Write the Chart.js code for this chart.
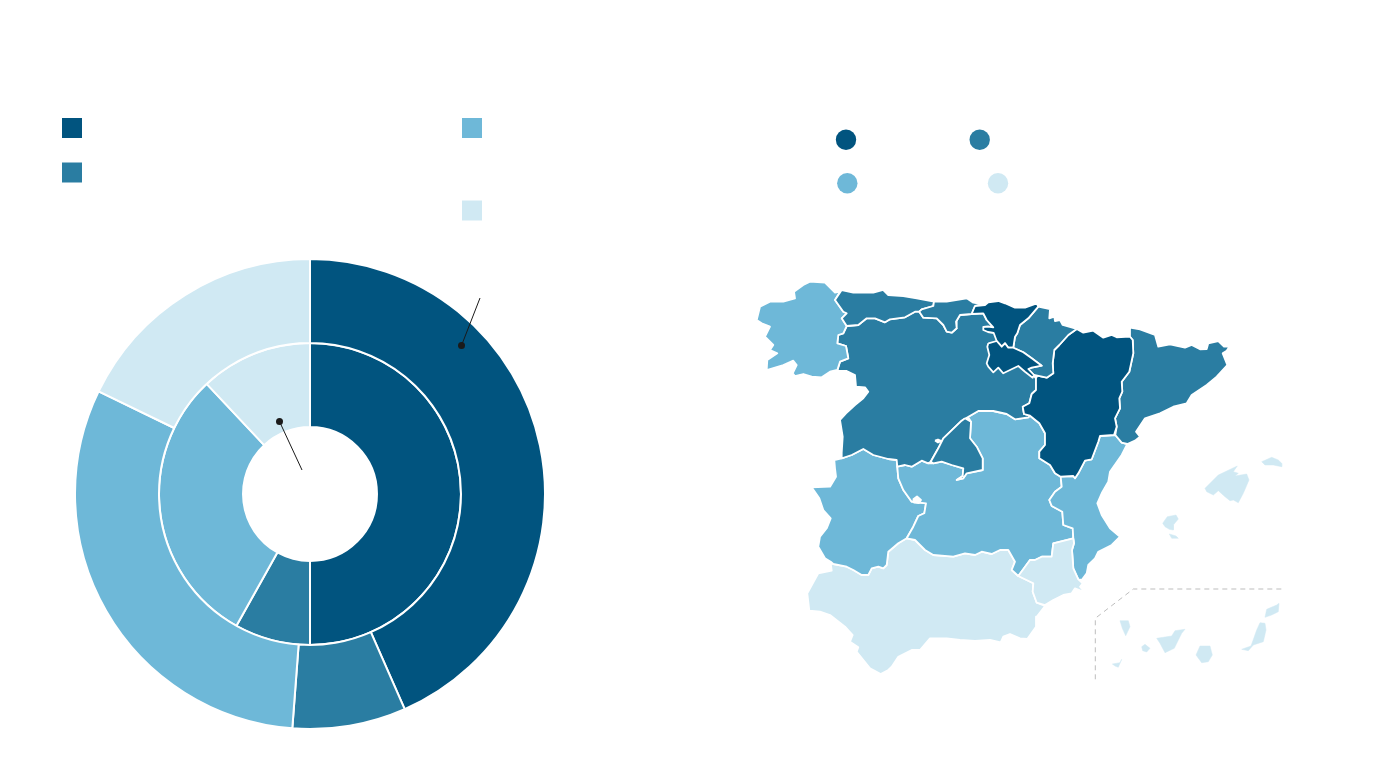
<!DOCTYPE html>
<html>
<head>
<meta charset="utf-8">
<script src="https://cdn.jsdelivr.net/npm/chart.js@4"></script>
<style>
html,body{margin:0;padding:0;background:#fff}
canvas{position:absolute}
#donut{left:74px;top:258px}
#page{left:0;top:0}
</style>
</head>
<body>
<canvas id="donut" width="472" height="472" style="width:472px;height:472px"></canvas>
<canvas id="page" width="1380" height="764" style="width:1380px;height:764px"></canvas>
<script>
const DARK='#01547f', MID='#2a7da2', LIGHT='#6eb8d8', PALE='#d0e9f3';
const ringColors=[DARK,MID,LIGHT,PALE];
const outerRing=[43.4,7.8,31.0,17.8];
const innerRing=[50.0,8.1,29.9,12.0];

const legendSquares=[[72,128,DARK],[72,172.5,MID],[472,128,LIGHT],[472,210.5,PALE]];
const legendCircles=[[846,139.7,DARK],[979.7,139.7,MID],[847.3,183.3,LIGHT],[998,183.3,PALE]];
const leaderOuter=[[480,298],[461.5,345.5]];
const leaderInner=[[302,470],[279.5,421.5]];
const insetFrame=[[1095.3,679.3],[1095.3,618.3],[1133.3,589],[1285,589]];

const galicia=[[756.7,320],[760,306.7],[770,301.7],[783.3,301.7],[795,298.3],[794,291.7],[803.3,285],[810,281.7],[825,282.7],[835,292.7],[840,291.7],[835,300],[843.3,311.7],[846.7,313.3],[841.7,318.3],[846.7,326],[843.3,333.3],[838.3,335],[837.3,343.3],[846,346],[848.3,358.3],[840,361.7],[837.3,370],[830,371.7],[821.7,377.3],[811.7,376.7],[803.3,374],[795,376],[792.7,373.3],[796.7,365],[793.3,360.7],[783.3,365],[766.7,370],[767.3,360],[777.3,353.3],[770,350],[773.3,345],[765,336.7],[770,326.7],[761.7,323.3]];
const asturias=[[841.7,290],[853.3,292.7],[873.3,292.7],[883.3,290],[888.3,295],[903.3,296],[916.7,298.3],[934,301.7],[933.3,306],[921.7,309.3],[919.3,311.7],[915,311.7],[905,317.3],[890,319.3],[885,322.3],[875,318.3],[866.7,318.3],[858.3,325],[846.7,326],[841.7,318.3],[846.7,313.3],[843.3,311.7],[835,300]];
const cantabria=[[934,301.7],[946.7,301.7],[966.7,298.3],[973.3,302.7],[983.3,304.3],[975,306],[973.3,310],[971.7,314],[960,315],[956,321.7],[956.7,328.3],[951.7,332.7],[946.7,331.7],[943.3,325],[936.7,318.3],[923.3,317.7],[919.3,311.7],[921.7,309.3],[933.3,306]];
const euskadi=[[975,306],[985,305],[988.3,302.3],[998.3,301],[1005,303.3],[1015,307.7],[1025,307.7],[1036.7,303.3],[1038.3,306.7],[1028.3,318.3],[1020,325],[1017.3,333.3],[1015,336.7],[1013.3,347.7],[1008.3,347.7],[1005,343.3],[1001.7,346.7],[996.7,341],[993.7,333],[988,332],[983.3,330],[983.3,327],[988,326.5],[993.3,327.3],[986.7,320],[983.3,313.3],[971.7,314],[973.3,310]];
const navarra=[[1038.3,306.7],[1050,309],[1049.3,318.3],[1054.3,316.7],[1055,321],[1060,320],[1062.7,325],[1076.7,329],[1068.3,335],[1059.3,345],[1054.3,350],[1052.7,363.3],[1053.3,373.3],[1046.7,377.7],[1037.3,375.7],[1034,375],[1028.3,369],[1031.7,367.7],[1041.7,365.7],[1031.7,358.3],[1023.3,352.3],[1013.3,347.7],[1015,336.7],[1017.3,333.3],[1020,325],[1028.3,318.3]];
const rioja=[[988.3,343.3],[996.7,341],[1001.7,346.7],[1005,343.3],[1008.3,347.7],[1013.3,347.7],[1023.3,352.3],[1031.7,358.3],[1041.7,365.7],[1031.7,367.7],[1028.3,369],[1034,375],[1032.7,377.7],[1025,371.7],[1018.3,366],[1010,370],[1003.3,373.3],[998.3,367.7],[993.3,372.3],[988.3,366.7],[986.7,363.3],[989.3,355],[987.3,346.7]];
const aragon=[[1076.7,329],[1083.3,332.7],[1093.3,330.7],[1103.3,337.7],[1111.7,335],[1116.7,337.3],[1130,336.7],[1132.7,340],[1133.3,353.3],[1129.3,371.7],[1121.7,381.7],[1122.3,391.7],[1119.3,398.3],[1120,408.3],[1115,418.3],[1116.7,426.7],[1114,435],[1100,436],[1098.3,441.7],[1091.7,459.3],[1085,460.7],[1078.3,473.3],[1075,478.3],[1073.3,476],[1060.7,476.7],[1055,473.3],[1050,465],[1039.3,458.3],[1039.3,451.7],[1045,445],[1045,433.3],[1039.3,423.3],[1030,415.7],[1024,414],[1022.7,406.7],[1029.3,403.3],[1031.7,394],[1036,390],[1036,378.3],[1037.3,375.7],[1046.7,377.7],[1053.3,373.3],[1052.7,363.3],[1054.3,350],[1059.3,345],[1068.3,335]];
const cataluna=[[1130,327.7],[1140,329.3],[1155,335],[1158.3,346.7],[1170,344.3],[1185,347.7],[1191.7,345],[1200,349.3],[1206.7,349],[1208.3,343.3],[1218.3,341],[1224,346.7],[1229.3,346.7],[1226.7,350.7],[1222.7,353.3],[1227.3,365],[1216.7,376.7],[1206.7,385],[1191.7,395],[1186.7,403.3],[1173.3,406.7],[1160,413.3],[1145,418.3],[1136,431.7],[1140,436.7],[1135,440.7],[1127.3,444],[1121.7,442.7],[1115.3,435],[1116.7,426.7],[1115,418.3],[1120,408.3],[1119.3,398.3],[1122.3,391.7],[1121.7,381.7],[1129.3,371.7],[1133.3,353.3],[1132.7,340],[1130,336.7]];
const castillaLeon=[[846.7,326],[858.3,325],[866.7,318.3],[875,318.3],[885,322.3],[890,319.3],[905,317.3],[915,311.7],[919.3,311.7],[923.3,317.7],[936.7,318.3],[943.3,325],[946.7,331.7],[951.7,332.7],[956.7,328.3],[956,321.7],[960,315],[971.7,314],[983.3,313.3],[986.7,320],[993.3,327.3],[1000,345],[1014,349],[1028,369],[1036,378.3],[1036,390],[1031.7,394],[1029.3,403.3],[1022.7,406.7],[1024,414],[1030,415.7],[1028.3,417.3],[1015,419.3],[1006.7,414],[993.3,411],[978.3,411],[968,417],[961.7,420.7],[943.3,438.3],[938.3,448.3],[930.7,461.7],[928.3,463.3],[921.7,460.7],[911.7,466.7],[905,465],[897.3,466.7],[896.7,460],[888.3,459],[873.3,455],[863.3,449],[851.7,455],[841.7,458.3],[841.7,452.7],[842.7,436.7],[840,420],[846,413.3],[855,405],[863.3,398.3],[868.3,391.7],[865,387.3],[856,386.7],[855,375],[846.7,371],[837.3,371],[840,361.7],[848.3,358.3],[846,346],[837.3,343.3],[838.3,335],[843.3,333.3]];
const madrid=[[965,418.3],[971,421.7],[970,438.3],[976.7,446.7],[982.7,458.3],[982.7,470],[966.7,473.3],[963.3,478.3],[956.7,480],[962.7,476],[963.3,468.3],[951.7,465],[941.7,461.7],[933.3,463.3],[930.7,461.7],[938.3,448.3],[943.3,438.3],[961.7,420.7]];
const valencia=[[1115.3,435],[1121.7,442.7],[1127.3,444],[1121.7,455],[1110,471.7],[1108.3,481.7],[1101.7,493.3],[1097.3,503.3],[1101.7,515],[1110,528.3],[1120,536.7],[1111.7,545],[1098.3,551.7],[1095,558.3],[1088.3,565],[1086.7,573.3],[1081.7,580],[1078.3,579.3],[1073.3,568.3],[1072,550],[1074,543.3],[1073.3,538.3],[1072.7,528.3],[1063.3,525],[1062.3,511.7],[1051.7,506],[1049.3,500],[1055,491.7],[1061.7,486.7],[1060.7,476.7],[1073.3,476],[1075,478.3],[1078.3,473.3],[1085,460.7],[1091.7,459.3],[1098.3,441.7],[1100,436]];
const castillaMancha=[[968,417],[978.3,411],[993.3,411],[1006.7,414],[1015,419.3],[1028.3,417.3],[1030,415.7],[1039.3,423.3],[1045,433.3],[1045,445],[1039.3,451.7],[1039.3,458.3],[1050,465],[1055,473.3],[1060.7,476.7],[1061.7,486.7],[1055,491.7],[1049.3,500],[1051.7,506],[1062.3,511.7],[1063.3,525],[1072.7,528.3],[1073.3,538.3],[1053.3,543.3],[1051.7,556.7],[1041.7,556.7],[1035,560],[1030,560],[1018.3,576],[1011.7,570],[1015,561.7],[1008.3,550],[1000,550],[991.7,554],[981.7,551.7],[975,555],[965,553.3],[953.3,556.7],[933.3,555],[925,550],[915,540],[906.7,538.3],[913.3,526.7],[918.3,516],[924.3,513.3],[926,503.3],[911.7,501.7],[903.3,490],[898.3,478.3],[897.3,466.7],[905,465],[911.7,466.7],[921.7,460.7],[928.3,463.3],[933.3,463.3],[941.7,461.7],[951.7,465],[963.3,468.3],[962.7,476],[956.7,480],[963.3,478.3],[966.7,473.3],[982.7,470],[982.7,458.3],[976.7,446.7],[970,438.3],[971,421.7]];
const extremadura=[[834.3,460],[841.7,458.3],[851.7,455],[863.3,449],[873.3,455],[888.3,459],[896.7,460],[897.3,466.7],[898.3,478.3],[903.3,490],[911.7,501.7],[926,503.3],[924.3,513.3],[918.3,516],[913.3,526.7],[906.7,538.3],[898.3,543.3],[888.3,551.7],[886.7,565],[883.3,568.3],[878.3,566.7],[871.7,568.3],[868.3,575],[861.7,575],[853.3,570],[846.7,566.7],[833.3,564],[830.7,561.7],[825,558.3],[818.3,546.7],[820,536.7],[826.7,528.3],[830.7,518.3],[823.3,510],[819.3,498.3],[811.7,487.3],[830,486.7],[836,476.7],[835,468.3]];
const andalucia=[[830.7,563.3],[833.3,564],[846.7,566.7],[853.3,570],[861.7,575],[868.3,575],[871.7,568.3],[878.3,566.7],[883.3,568.3],[886.7,565],[888.3,551.7],[898.3,543.3],[906.7,538.3],[915,540],[925,550],[933.3,555],[953.3,556.7],[965,553.3],[975,555],[981.7,551.7],[991.7,554],[1000,550],[1008.3,550],[1015,561.7],[1011.7,570],[1018.3,576],[1033.3,583.3],[1032.7,591.7],[1036.7,602.7],[1045,606],[1036.7,616.7],[1036,626.7],[1027.3,639],[1020,638.3],[1010,634],[1003.3,636.7],[1000.7,642.3],[990,640],[975,641],[960,640],[946.7,638.3],[930,638.3],[920,650],[911.7,650],[898.3,656.7],[891.7,666.7],[888.3,670],[880.7,674],[870,668.3],[856.7,651.7],[858.3,647.3],[850,641.7],[852.7,635],[845,626.7],[830,615],[820,611.7],[809.3,610.7],[807.3,593.3],[818.3,573.3],[831.7,570.7]];
const murcia=[[1073.3,538.3],[1053.3,543.3],[1051.7,556.7],[1041.7,556.7],[1035,560],[1030,560],[1018.3,576],[1033.3,583.3],[1032.7,591.7],[1036.7,602.7],[1045,605],[1053.3,600],[1063.3,595],[1071.7,593.3],[1075,588.3],[1085,592.3],[1080,586.7],[1082.7,583.3],[1078.3,579.3],[1073.3,568.3],[1072,550],[1074,543.3]];
const mallorca=[[1205,488.3],[1213.3,480],[1218.3,475],[1237.3,466],[1233.3,471.7],[1238.3,473.3],[1235,476],[1246.7,474],[1249,480],[1243.3,493.3],[1238.3,502.7],[1233.3,500],[1230,500.7],[1225,496.7],[1218.3,490.7],[1213.3,495],[1206.7,491.7]];
const menorca=[[1261.7,461.7],[1271.7,457.3],[1278.3,460],[1281.7,463.3],[1281.7,466.7],[1273.3,465],[1265,465]];
const ibiza=[[1162.7,523.3],[1167.3,516.7],[1176,515],[1178.3,519],[1173.3,525],[1173.3,530],[1169.3,529.3],[1165,526.7]];
const formentera=[[1169.3,534],[1176,536],[1178.3,538.3],[1171.7,538.3]];
const lanzarote=[[1265,617.3],[1266.7,609.3],[1276.7,605],[1279,603.3],[1278.3,611.7],[1271.7,615]];
const fuerteventura=[[1241.7,649.3],[1251,646],[1256.7,630],[1260,622.7],[1265,623.3],[1266,630],[1263.3,641.7],[1253.3,645],[1248.3,650.7]];
const granCanaria=[[1196,655],[1200,646],[1210,646],[1212.3,655],[1208.3,661.7],[1201.7,662.7]];
const tenerife=[[1156.7,638.3],[1171.7,636],[1175,630.7],[1185,629.3],[1181.7,633.3],[1174.3,648.3],[1165,652.7],[1160,643.3]];
const gomera=[[1141.7,646.7],[1145,644.3],[1150,648.3],[1146.7,652],[1142.7,650.7]];
const laPalma=[[1120,620.7],[1128.3,620.7],[1130,626.7],[1125.7,635.7],[1122.3,628.3]];
const hierro=[[1112.3,664],[1120,662.7],[1121.7,659.3],[1118.3,667.3],[1115,666]];
const gapNorth=[[935,440.5],[938,439.5],[941.5,441],[938,442.5]];
const gapSouth=[[913,499.5],[917,496.5],[921,500],[919,503],[914,502.5]];

const xy=a=>a.map(p=>({x:p[0],y:p[1]}));
const region=(a,c)=>({type:'scatter',showLine:true,data:xy(a.concat([a[0]])),backgroundColor:c,borderColor:'#fff',borderWidth:1.8,borderJoinStyle:'round',fill:'shape',pointRadius:0,tension:0});
const island=(a)=>({type:'scatter',showLine:true,data:xy(a.concat([a[0]])),backgroundColor:PALE,borderColor:PALE,borderWidth:0.5,fill:'shape',pointRadius:0,tension:0});
const marks=(a,style,r)=>a.map(m=>({type:'scatter',data:[{x:m[0],y:m[1]}],backgroundColor:m[2],borderWidth:0,pointStyle:style,pointRadius:r}));
const leader=(a)=>({type:'scatter',showLine:true,data:xy(a),borderColor:'#1a1a1a',borderWidth:1,pointRadius:[0,3.5],pointBackgroundColor:'#1a1a1a',pointBorderWidth:0,fill:false,tension:0});

new Chart(document.getElementById('donut'),{
  type:'doughnut',
  data:{datasets:[
    {data:outerRing,backgroundColor:ringColors,borderColor:'#fff',borderWidth:2},
    {data:innerRing,backgroundColor:ringColors,borderColor:'#fff',borderWidth:2}
  ]},
  options:{responsive:false,animation:false,cutout:'28.5%',events:[],plugins:{legend:{display:false},tooltip:{enabled:false}},layout:{padding:0}}
});

// later entries paint first, so the list runs from top-most to bottom-most
const datasets=[
  leader(leaderOuter),leader(leaderInner),
  ...marks(legendSquares,'rect',14.14),
  ...marks(legendCircles,'circle',10.2),
  {type:'scatter',showLine:true,data:xy(insetFrame),borderColor:'#bdbdbd',borderWidth:1,borderDash:[5,4],pointRadius:0,fill:false,tension:0},
  region(gapNorth,'#fff'),region(gapSouth,'#fff'),
  region(rioja,DARK),region(euskadi,DARK),region(navarra,MID),region(madrid,MID),
  region(aragon,DARK),region(cataluna,MID),
  region(cantabria,MID),region(asturias,MID),region(galicia,LIGHT),
  region(castillaLeon,MID),
  region(murcia,PALE),region(valencia,LIGHT),region(castillaMancha,LIGHT),
  region(extremadura,LIGHT),region(andalucia,PALE),
  island(mallorca),island(menorca),island(ibiza),island(formentera),
  island(lanzarote),island(fuerteventura),island(granCanaria),island(tenerife),island(gomera),island(laPalma),island(hierro)
];

new Chart(document.getElementById('page'),{
  type:'scatter',
  data:{datasets},
  options:{
    responsive:false,animation:false,events:[],
    layout:{padding:0,autoPadding:false},
    clip:false,
    plugins:{legend:{display:false},tooltip:{enabled:false}},
    scales:{
      x:{type:'linear',min:0,max:1380,display:false},
      y:{type:'linear',min:0,max:764,reverse:true,display:false}
    }
  }
});
</script>
</body>
</html>
